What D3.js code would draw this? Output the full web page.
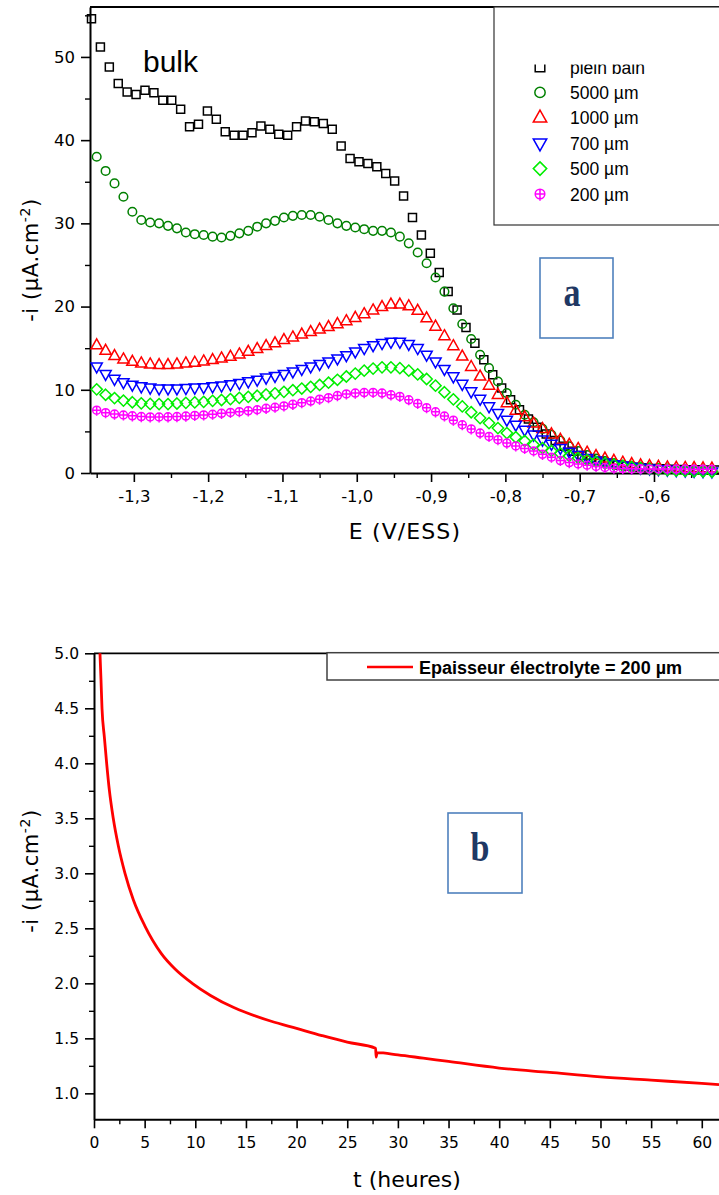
<!DOCTYPE html>
<html><head><meta charset="utf-8">
<script src="https://cdn.jsdelivr.net/npm/d3@7"></script>
<style>body{margin:0;background:#fff}svg{display:block}</style>
</head><body><svg id="c" width="719" height="1195"></svg>
<script>
// ---------- DATA (chart a) ----------
const E_bulk = [-1.357,-1.345,-1.333,-1.321,-1.309,-1.297,-1.285,-1.273,-1.261,-1.249,-1.237,-1.225,-1.213,-1.201,-1.189,-1.177,-1.165,-1.153,-1.141,-1.129,-1.117,-1.105,-1.093,-1.081,-1.069,-1.057,-1.045,-1.033,-1.021,-1.009,-0.997,-0.985,-0.973,-0.961,-0.949,-0.937,-0.925,-0.913,-0.901,-0.889,-0.877,-0.865,-0.853,-0.841,-0.829,-0.817,-0.805,-0.793,-0.781,-0.769,-0.757,-0.745,-0.733,-0.721,-0.709,-0.697,-0.685,-0.673,-0.661,-0.649,-0.637,-0.625,-0.613,-0.601,-0.589,-0.577,-0.565,-0.553,-0.541,-0.529,-0.517];
const I_bulk = [54.6,51.2,48.8,46.8,45.8,45.5,46.0,45.7,44.8,44.8,43.7,41.6,41.9,43.5,42.5,41.0,40.6,40.6,40.9,41.7,41.3,40.7,40.6,41.6,42.3,42.2,42.0,41.3,39.3,37.8,37.4,37.2,36.8,36.0,35.1,33.3,30.7,28.6,26.4,24.1,21.8,19.6,17.5,15.6,13.6,11.8,10.2,8.8,7.6,6.5,5.5,4.7,3.9,3.2,2.6,2.1,1.7,1.4,1.15,0.95,0.8,0.7,0.62,0.55,0.5,0.45,0.42,0.4,0.38,0.36,0.35];
const E_film = [-1.350,-1.338,-1.326,-1.314,-1.302,-1.290,-1.278,-1.266,-1.254,-1.242,-1.230,-1.218,-1.206,-1.194,-1.182,-1.170,-1.158,-1.146,-1.134,-1.122,-1.110,-1.098,-1.086,-1.074,-1.062,-1.050,-1.038,-1.026,-1.014,-1.002,-0.990,-0.978,-0.966,-0.954,-0.942,-0.930,-0.918,-0.906,-0.894,-0.882,-0.870,-0.858,-0.846,-0.834,-0.822,-0.810,-0.798,-0.786,-0.774,-0.762,-0.750,-0.738,-0.726,-0.714,-0.702,-0.690,-0.678,-0.666,-0.654,-0.642,-0.630,-0.618,-0.606,-0.594,-0.582,-0.570,-0.558,-0.546,-0.534,-0.522];
const I_5000 = [38.0,36.3,34.8,33.2,31.4,30.4,30.1,30.0,29.7,29.4,28.9,28.7,28.6,28.4,28.3,28.5,28.8,29.1,29.6,30.0,30.3,30.7,30.9,31.0,31.0,30.8,30.4,30.0,29.7,29.5,29.3,29.1,29.1,28.9,28.4,27.6,26.5,25.2,23.5,21.8,19.8,17.9,16.1,14.2,12.6,11.0,9.6,8.2,7.0,6.1,5.3,4.6,3.9,3.2,2.65,2.15,1.75,1.45,1.2,1.0,0.85,0.75,0.65,0.58,0.52,0.48,0.45,0.42,0.4,0.38];
const I_1000 = [15.35,14.7,14.06,13.66,13.38,13.18,13.06,12.98,12.98,13.06,13.18,13.26,13.42,13.58,13.78,13.98,14.26,14.58,14.9,15.26,15.59,15.99,16.3,16.65,16.95,17.25,17.55,17.9,18.25,18.65,19.1,19.55,19.95,20.25,20.25,20.05,19.5,18.6,17.6,16.45,15.25,14.0,12.75,11.6,10.5,9.4,8.4,7.5,6.7,5.95,5.3,4.65,4.0,3.4,2.9,2.45,2.05,1.75,1.48,1.25,1.08,0.93,0.84,0.76,0.68,0.64,0.62,0.6,0.57,0.55];
const I_700 = [12.8,11.9,11.3,10.9,10.6,10.4,10.25,10.15,10.15,10.15,10.2,10.25,10.3,10.4,10.5,10.65,10.8,11.0,11.2,11.45,11.65,11.9,12.2,12.5,12.8,13.1,13.4,13.75,14.15,14.6,15.0,15.35,15.6,15.75,15.75,15.5,15.0,14.2,13.4,12.5,11.6,10.7,9.8,8.9,8.0,7.2,6.4,5.8,5.2,4.6,4.0,3.5,3.0,2.55,2.15,1.8,1.5,1.25,1.05,0.88,0.75,0.62,0.52,0.45,0.38,0.32,0.28,0.24,0.2,0.18];
const I_500 = [10.05,9.4,9.0,8.7,8.5,8.37,8.3,8.28,8.28,8.35,8.43,8.48,8.55,8.67,8.77,8.88,9.03,9.15,9.28,9.43,9.57,9.75,9.95,10.15,10.35,10.58,10.85,11.2,11.6,11.95,12.3,12.55,12.7,12.7,12.6,12.3,11.85,11.3,10.5,9.7,8.85,8.0,7.3,6.6,6.0,5.4,4.8,4.3,3.85,3.4,3.0,2.65,2.35,2.05,1.8,1.55,1.35,1.15,1.0,0.85,0.72,0.6,0.5,0.42,0.35,0.3,0.25,0.2,0.18,0.15];
const I_200 = [7.55,7.25,7.08,6.97,6.87,6.78,6.74,6.73,6.75,6.78,6.84,6.92,6.98,7.06,7.17,7.28,7.37,7.47,7.6,7.77,7.9,8.06,8.25,8.45,8.65,8.87,9.05,9.3,9.5,9.6,9.66,9.68,9.6,9.4,9.2,8.8,8.35,7.85,7.35,6.85,6.35,5.8,5.3,4.8,4.4,4.0,3.6,3.25,2.95,2.65,2.25,1.9,1.5,1.25,1.08,0.93,0.78,0.66,0.58,0.53,0.5,0.5,0.49,0.48,0.48,0.47,0.47,0.46,0.46,0.45];
const legendLabels = ["plein bain","5000 µm","1000 µm","700 µm","500 µm","200 µm"];
const xMajorA = [-1.3,-1.2,-1.1,-1.0,-0.9,-0.8,-0.7,-0.6];
const xMinorA = [-1.35,-1.25,-1.15,-1.05,-0.95,-0.85,-0.75,-0.65,-0.55];
const yMajorA = [0,10,20,30,40,50];
const yMinorA = [5,15,25,35,45,55];

// ---------- DATA (chart b) ----------
const t_hours = [0.59,0.69,0.79,1.02,1.25,1.51,1.9,2.4,3.06,3.88,5.03,6.65,8.0,9.7,11.5,13.8,15,17.5,20,22.5,25,27.8,27.85,27.95,30,32.5,35,40,45,50,55,60,61.7];
const i_film200 = [5.0,4.76,4.5,4.24,4.0,3.76,3.5,3.25,3.0,2.76,2.52,2.27,2.13,2.0,1.89,1.78,1.735,1.655,1.59,1.525,1.465,1.41,1.33,1.37,1.35,1.32,1.29,1.23,1.19,1.15,1.12,1.09,1.08];
const xMajorB = [0,5,10,15,20,25,30,35,40,45,50,55,60];
const xMinorB = [2.5,7.5,12.5,17.5,22.5,27.5,32.5,37.5,42.5,47.5,52.5,57.5];
const yMajorB = [1.0,1.5,2.0,2.5,3.0,3.5,4.0,4.5,5.0];
const yMinorB = [1.25,1.75,2.25,2.75,3.25,3.75,4.25,4.75];

// ---------- DRAW ----------
const svg = d3.select('#c');
const defs = svg.append('defs');
const AX_FONT = "'DejaVu Sans', Verdana, sans-serif";
const ARIAL = "'Liberation Sans', Arial, Helvetica, sans-serif";

function styleAxis(g, size) {
  g.attr('font-family', AX_FONT).attr('font-size', size);
  g.select('.domain').attr('stroke', '#000').attr('stroke-width', 2);
  g.selectAll('.tick line').attr('stroke', '#000').attr('stroke-width', 1.6);
  g.selectAll('.tick text').attr('fill', '#000');
}
function minorAxis(g) {
  g.select('.domain').remove();
  g.selectAll('.tick line').attr('stroke', '#000').attr('stroke-width', 1.4);
  g.selectAll('.tick text').remove();
}

// ===== Chart a =====
const xA = d3.scaleLinear().domain([-1.359, -0.5125]).range([90, 719]);
const yA = d3.scaleLinear().domain([0, 56]).range([473, 7]);
const fmtA = v => v.toFixed(1).replace('.', ',');

svg.append('line').attr('x1', 90).attr('x2', 719).attr('y1', 7).attr('y2', 7)
  .attr('stroke', '#000').attr('stroke-width', 1.8);

svg.append('g').attr('transform', 'translate(0,473)')
  .call(d3.axisBottom(xA).tickValues(xMinorA).tickSize(5).tickSizeOuter(0)).call(minorAxis);
svg.append('g').attr('transform', 'translate(0,473)')
  .call(d3.axisBottom(xA).tickValues(xMajorA).tickSize(9).tickSizeOuter(0).tickPadding(8).tickFormat(fmtA))
  .call(g => styleAxis(g, 16.5));
svg.append('g').attr('transform', 'translate(90,0)')
  .call(d3.axisLeft(yA).tickValues(yMinorA).tickSize(5).tickSizeOuter(0)).call(minorAxis);
svg.append('g').attr('transform', 'translate(90,0)')
  .call(d3.axisLeft(yA).tickValues(yMajorA).tickSize(9).tickSizeOuter(0).tickPadding(6).tickFormat(d3.format('d')))
  .call(g => styleAxis(g, 16.5));

// marker shapes
const shapes = {
  square: s => `M${-4*s},${-4*s}H${4*s}V${4*s}H${-4*s}Z`,
  circle: s => { const r = 4.3*s; return `M${-r},0A${r},${r} 0 1,0 ${r},0A${r},${r} 0 1,0 ${-r},0Z`; },
  triUp: s => `M0,${-6.4*s}L${5.6*s},${3.6*s}H${-5.6*s}Z`,
  triDown: s => `M0,${6.4*s}L${5.6*s},${-3.6*s}H${-5.6*s}Z`,
  diamond: s => `M0,${-5.6*s}L${5.6*s},0L0,${5.6*s}L${-5.6*s},0Z`,
  circPlus: s => { const r = 4*s; return `M${-r},0A${r},${r} 0 1,0 ${r},0A${r},${r} 0 1,0 ${-r},0ZM${-r},0H${r}M0,${-r}V${r+1.6*s}`; }
};
const series = [
  {E: E_bulk, I: I_bulk, shape: 'square', color: '#000000'},
  {E: E_film, I: I_5000, shape: 'circle', color: '#008000'},
  {E: E_film, I: I_1000, shape: 'triUp', color: '#ff0000'},
  {E: E_film, I: I_700, shape: 'triDown', color: '#0000ff'},
  {E: E_film, I: I_500, shape: 'diamond', color: '#00ee00'},
  {E: E_film, I: I_200, shape: 'circPlus', color: '#ff00ff'}
];
series.forEach(s => {
  svg.append('g').selectAll('path').data(s.E.map((e, i) => [e, s.I[i]])).join('path')
    .attr('d', shapes[s.shape](1))
    .attr('transform', d => `translate(${xA(d[0])},${yA(d[1])})`)
    .attr('fill', 'none').attr('stroke', s.color).attr('stroke-width', 1.5);
});

// legend a (its top row is cut off in the original)
defs.append('clipPath').attr('id', 'legclip')
  .append('rect').attr('x', 494).attr('y', 64.5).attr('width', 230).attr('height', 170);
const legA = svg.append('g');
legA.append('rect').attr('x', 494).attr('y', 7).attr('width', 240).attr('height', 218)
  .attr('fill', '#fff').attr('stroke', '#333').attr('stroke-width', 1.2);
const legItems = legA.append('g').attr('clip-path', 'url(#legclip)');
series.forEach((s, i) => {
  const by = 73.5 + i * 25.4;
  legItems.append('path').attr('d', shapes[s.shape](1.2))
    .attr('transform', `translate(540,${by - 6.5})`)
    .attr('fill', 'none').attr('stroke', s.color).attr('stroke-width', 1.5);
  legItems.append('text').attr('x', 570).attr('y', by).text(legendLabels[i])
    .attr('font-family', ARIAL).attr('font-size', 17.5).attr('fill', '#000');
});

svg.append('text').attr('x', 143).attr('y', 71.5).text('bulk')
  .attr('font-family', ARIAL).attr('font-size', 30).attr('fill', '#000');

// a box
svg.append('rect').attr('x', 540).attr('y', 258).attr('width', 73).attr('height', 80)
  .attr('fill', '#fff').attr('stroke', '#4f81bd').attr('stroke-width', 1.6);
svg.append('text').attr('transform', 'translate(572,306) scale(1,1.25)').attr('text-anchor', 'middle')
  .text('a').attr('font-family', "'Liberation Serif','Times New Roman',serif").attr('font-weight', 'bold')
  .attr('font-size', 34).attr('fill', '#1f3864');

// axis titles a
svg.append('text').attr('x', 405).attr('y', 539).attr('text-anchor', 'middle')
  .attr('font-family', AX_FONT).attr('font-size', 22).attr('letter-spacing', 1.1).text('E (V/ESS)');
function yTitle(cy) {
  const t = svg.append('text').attr('transform', `translate(38,${cy}) rotate(-90)`).attr('text-anchor', 'middle')
    .attr('font-family', AX_FONT).attr('font-size', 21).attr('letter-spacing', 0.6);
  t.append('tspan').text('-i (µA.cm');
  t.append('tspan').attr('dy', -8).attr('font-size', 14).text('-2');
  t.append('tspan').attr('dy', 8).text(')');
}
yTitle(260);

// ===== Chart b =====
const xB = d3.scaleLinear().domain([0, 61.7]).range([94, 719]);
const yB = d3.scaleLinear().domain([0.764, 5.0]).range([1119.3, 653.3]);

svg.append('line').attr('x1', 94).attr('x2', 719).attr('y1', 653.3).attr('y2', 653.3)
  .attr('stroke', '#000').attr('stroke-width', 1.8);

svg.append('g').attr('transform', 'translate(0,1119.3)')
  .call(d3.axisBottom(xB).tickValues(xMinorB).tickSize(5).tickSizeOuter(0)).call(minorAxis);
svg.append('g').attr('transform', 'translate(0,1119.3)')
  .call(d3.axisBottom(xB).tickValues(xMajorB).tickSize(9).tickSizeOuter(0).tickPadding(9).tickFormat(d3.format('d')))
  .call(g => styleAxis(g, 15.5));
svg.append('g').attr('transform', 'translate(94,0)')
  .call(d3.axisLeft(yB).tickValues(yMinorB).tickSize(5).tickSizeOuter(0)).call(minorAxis);
svg.append('g').attr('transform', 'translate(94,0)')
  .call(d3.axisLeft(yB).tickValues(yMajorB).tickSize(9).tickSizeOuter(0).tickPadding(6).tickFormat(d3.format('.1f')))
  .call(g => styleAxis(g, 15.5));

defs.append('clipPath').attr('id', 'plotb')
  .append('rect').attr('x', 94).attr('y', 653).attr('width', 630).attr('height', 467);
const lineB = d3.line().x(d => xB(d[0])).y(d => yB(d[1])).curve(d3.curveMonotoneX);
svg.append('path').datum(t_hours.map((t, i) => [t, i_film200[i]]))
  .attr('d', lineB).attr('clip-path', 'url(#plotb)')
  .attr('fill', 'none').attr('stroke', '#ff0000').attr('stroke-width', 2.8)
  .attr('stroke-linejoin', 'round');

// legend b
svg.append('rect').attr('x', 327).attr('y', 652.7).attr('width', 400).attr('height', 27.3)
  .attr('fill', '#fff').attr('stroke', '#404040').attr('stroke-width', 1.5);
svg.append('line').attr('x1', 367).attr('x2', 413).attr('y1', 667).attr('y2', 667)
  .attr('stroke', '#ff0000').attr('stroke-width', 2.4);
svg.append('text').attr('x', 419).attr('y', 674).text('Epaisseur électrolyte = 200 µm')
  .attr('font-family', ARIAL).attr('font-weight', 'bold').attr('font-size', 18).attr('fill', '#000');

// b box
svg.append('rect').attr('x', 448).attr('y', 813).attr('width', 74).attr('height', 80)
  .attr('fill', '#fff').attr('stroke', '#4f81bd').attr('stroke-width', 1.6);
svg.append('text').attr('transform', 'translate(480,861) scale(1,1.25)').attr('text-anchor', 'middle')
  .text('b').attr('font-family', "'Liberation Serif','Times New Roman',serif").attr('font-weight', 'bold')
  .attr('font-size', 34).attr('fill', '#1f3864');

svg.append('text').attr('x', 407).attr('y', 1187).attr('text-anchor', 'middle')
  .attr('font-family', AX_FONT).attr('font-size', 22).text('t (heures)');
yTitle(871);
</script></body></html>
